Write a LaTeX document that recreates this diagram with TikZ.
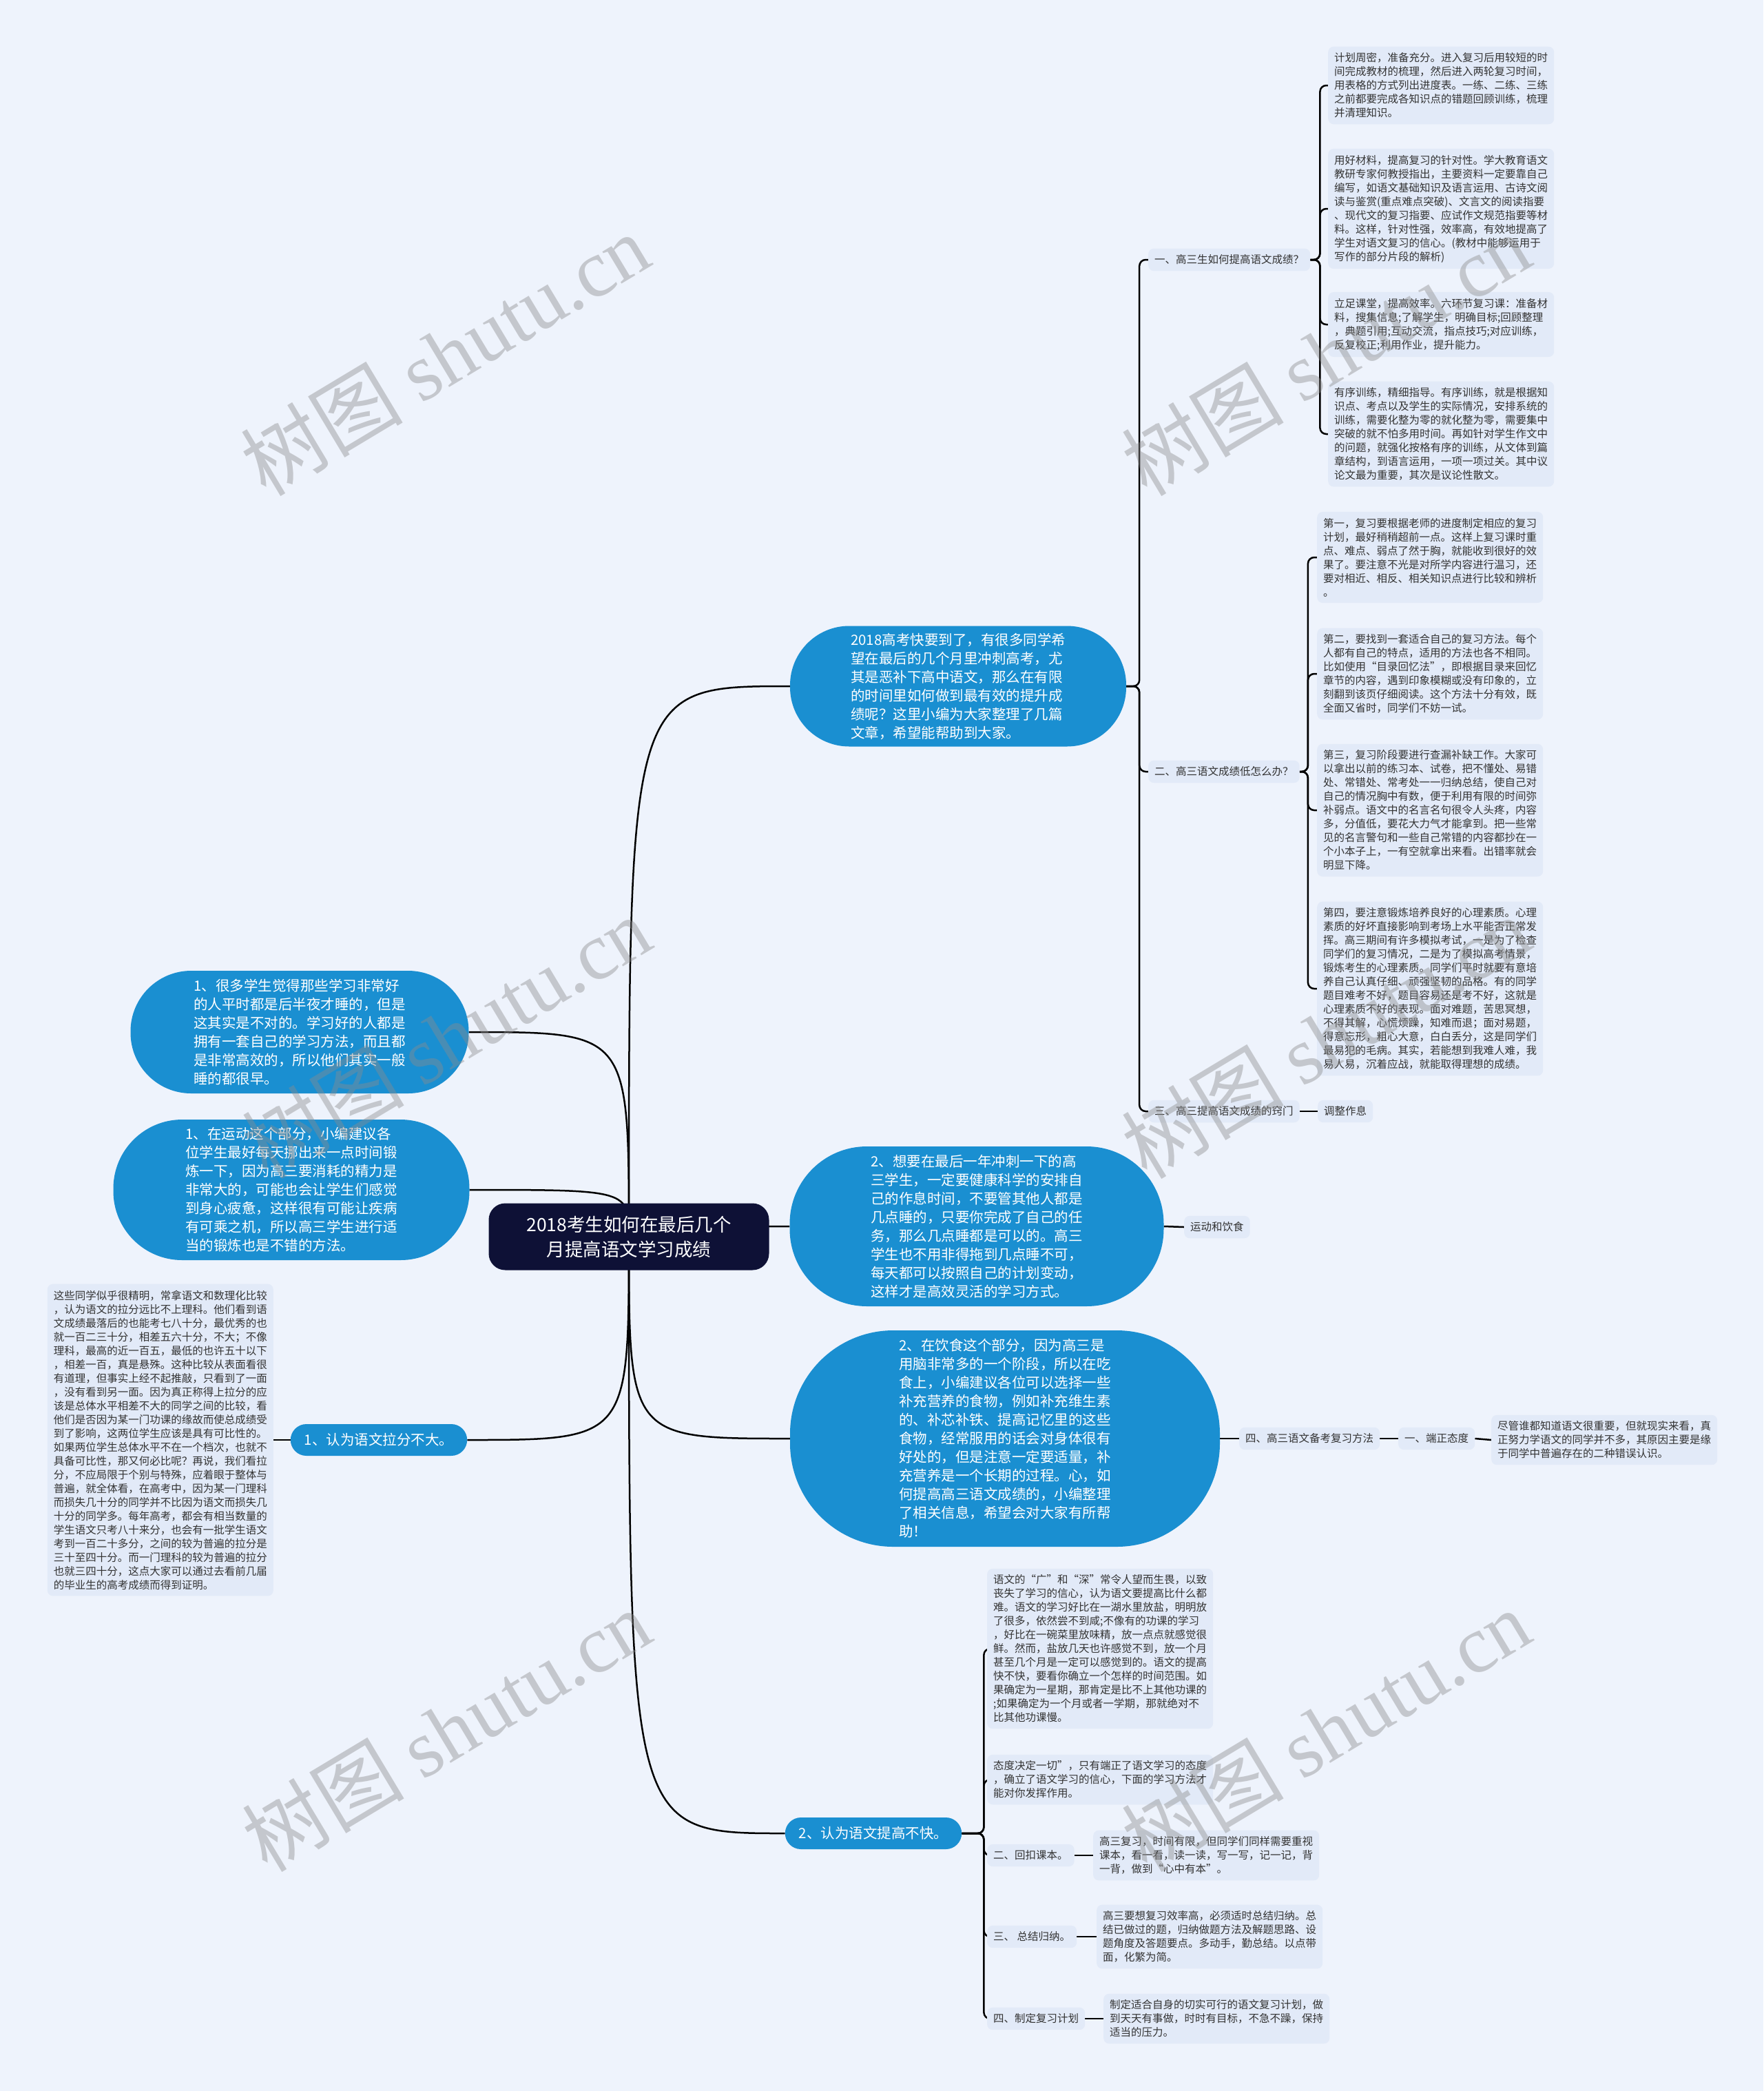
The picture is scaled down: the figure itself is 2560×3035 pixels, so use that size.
\documentclass[tikz,border=0pt]{standalone}
\usepackage{fontspec}
\setmainfont{Noto Sans CJK SC}
\newfontfamily\wmlatin{Liberation Serif}
\definecolor{pagebg}{HTML}{EEF3FC}
\definecolor{boxbg}{HTML}{E2EAF8}
\definecolor{bubblue}{HTML}{1A8FD1}
\definecolor{rootnavy}{HTML}{0E1136}
\definecolor{inktext}{HTML}{333333}
\pgfdeclarelayer{bg}
\pgfdeclarelayer{fg}
\pgfsetlayers{bg,main,fg}
\newcommand\txtsize{\fontsize{15.5pt}{20pt}\selectfont}
\newcommand\bubsize{\fontsize{20.5pt}{27pt}\selectfont}
\newcommand\rootsize{\fontsize{26.5pt}{36pt}\selectfont}
\tikzset{
    txtbox/.style={
        fill=boxbg, rounded corners=8pt, inner xsep=9pt, inner ysep=9pt,
        align=left, text=inktext, font=\txtsize
    },
    tagbox/.style={txtbox},
    bubble/.style={
        fill=bubblue, text=white, align=left, font=\bubsize, rounded corners=#1
    },
    pill/.style={
        fill=bubblue, text=white, font=\bubsize, rounded corners=23pt,
        minimum height=46pt, inner xsep=20pt
    },
    rootbox/.style={
        fill=rootnavy, text=white, align=center, font=\rootsize,
        rounded corners=24pt, minimum width=407pt, minimum height=97pt
    },
    conn/.style={line width=2.5pt, black},
    elbow/.style={conn, rounded corners=9pt},
    wmark/.style={
        text=black!45, opacity=0.42, rotate=31,
        font=\fontsize{118pt}{118pt}\selectfont
    }
}

\begin{document}
\begin{tikzpicture}[x=1pt,y=-1pt]
\useasboundingbox (0,0) rectangle (2560,3035);

% centre
\node[rootbox] (root) at (913,1795) {2018考生如何在最后几个\\月提高语文学习成绩};

% left side
\node[bubble=88pt, minimum width=491pt, minimum height=178pt] (sleep) at (435,1498)
    {1、很多学生觉得那些学习非常好\\的人平时都是后半夜才睡的，但是\\这其实是不对的。学习好的人都是\\拥有一套自己的学习方法，而且都\\是非常高效的，所以他们其实一般\\睡的都很早。};
\node[bubble=100pt, minimum width=517pt, minimum height=204pt] (sport) at (423,1727)
    {1、在运动这个部分，小编建议各\\位学生最好每天挪出来一点时间锻\\炼一下，因为高三要消耗的精力是\\非常大的，可能也会让学生们感觉\\到身心疲惫，这样很有可能让疾病\\有可乘之机，所以高三学生进行适\\当的锻炼也是不错的方法。};
\node[pill] (gapsmall) at (550,2090) {1、认为语文拉分不大。};
\node[txtbox, anchor=east] (gaptxt) at (397,2090)
    {这些同学似乎很精明，常拿语文和数理化比较\\，认为语文的拉分远比不上理科。他们看到语\\文成绩最落后的也能考七八十分，最优秀的也\\就一百二三十分，相差五六十分，不大；不像\\理科，最高的近一百五，最低的也许五十以下\\，相差一百，真是悬殊。这种比较从表面看很\\有道理，但事实上经不起推敲，只看到了一面\\，没有看到另一面。因为真正称得上拉分的应\\该是总体水平相差不大的同学之间的比较，看\\他们是否因为某一门功课的缘故而使总成绩受\\到了影响，这两位学生应该是具有可比性的。\\如果两位学生总体水平不在一个档次，也就不\\具备可比性，那又何必比呢？再说，我们看拉\\分，不应局限于个别与特殊，应着眼于整体与\\普遍，就全体看，在高考中，因为某一门理科\\而损失几十分的同学并不比因为语文而损失几\\十分的同学多。每年高考，都会有相当数量的\\学生语文只考八十来分，也会有一批学生语文\\考到一百二十多分，之间的较为普遍的拉分是\\三十至四十分。而一门理科的较为普遍的拉分\\也就三四十分，这点大家可以通过去看前几届\\的毕业生的高考成绩而得到证明。};

% right side
\node[bubble=86pt, minimum width=488pt, minimum height=175pt] (intro) at (1391,996)
    {2018高考快要到了，有很多同学希\\望在最后的几个月里冲刺高考，尤\\其是恶补下高中语文，那么在有限\\的时间里如何做到最有效的提升成\\绩呢？这里小编为大家整理了几篇\\文章，希望能帮助到大家。};
\node[bubble=112pt, minimum width=543pt, minimum height=232pt] (rest) at (1418,1780)
    {2、想要在最后一年冲刺一下的高\\三学生，一定要健康科学的安排自\\己的作息时间，不要管其他人都是\\几点睡的，只要你完成了自己的任\\务，那么几点睡都是可以的。高三\\学生也不用非得拖到几点睡不可，\\每天都可以按照自己的计划变动，\\这样才是高效灵活的学习方式。};
\node[bubble=150pt, minimum width=624pt, minimum height=314pt] (diet) at (1459,2088)
    {2、在饮食这个部分，因为高三是\\用脑非常多的一个阶段，所以在吃\\食上，小编建议各位可以选择一些\\补充营养的食物，例如补充维生素\\的、补芯补铁、提高记忆里的这些\\食物，经常服用的话会对身体很有\\好处的，但是注意一定要适量，补\\充营养是一个长期的过程。心，如\\何提高高三语文成绩的，小编整理\\了相关信息，希望会对大家有所帮\\助！};
\node[pill] (gapslow) at (1268,2661) {2、认为语文提高不快。};

% branch of intro
\node[tagbox, anchor=west] (q1) at (1667,377) {一、高三生如何提高语文成绩？};
\node[tagbox, anchor=west] (q2) at (1667,1120) {二、高三语文成绩低怎么办？};
\node[tagbox, anchor=west] (q3) at (1667,1613) {三、高三提高语文成绩的窍门};
\node[tagbox, anchor=west] (q3a) at (1913,1613) {调整作息};

\node[txtbox, anchor=west] (a1) at (1928,124)
    {计划周密，准备充分。进入复习后用较短的时\\间完成教材的梳理，然后进入两轮复习时间，\\用表格的方式列出进度表。一练、二练、三练\\之前都要完成各知识点的错题回顾训练，梳理\\并清理知识。};
\node[txtbox, anchor=west] (a2) at (1928,303)
    {用好材料，提高复习的针对性。学大教育语文\\教研专家何教授指出，主要资料一定要靠自己\\编写，如语文基础知识及语言运用、古诗文阅\\读与鉴赏(重点难点突破)、文言文的阅读指要\\、现代文的复习指要、应试作文规范指要等材\\料。这样，针对性强，效率高，有效地提高了\\学生对语文复习的信心。(教材中能够运用于\\写作的部分片段的解析)};
\node[txtbox, anchor=west] (a3) at (1928,471)
    {立足课堂，提高效率。六环节复习课：准备材\\料，搜集信息;了解学生，明确目标;回顾整理\\，典题引用;互动交流，指点技巧;对应训练，\\反复校正;利用作业，提升能力。};
\node[txtbox, anchor=west] (a4) at (1928,630)
    {有序训练，精细指导。有序训练，就是根据知\\识点、考点以及学生的实际情况，安排系统的\\训练，需要化整为零的就化整为零，需要集中\\突破的就不怕多用时间。再如针对学生作文中\\的问题，就强化按格有序的训练，从文体到篇\\章结构，到语言运用，一项一项过关。其中议\\论文最为重要，其次是议论性散文。};

\node[txtbox, anchor=west] (b1) at (1912,809)
    {第一，复习要根据老师的进度制定相应的复习\\计划，最好稍稍超前一点。这样上复习课时重\\点、难点、弱点了然于胸，就能收到很好的效\\果了。要注意不光是对所学内容进行温习，还\\要对相近、相反、相关知识点进行比较和辨析\\。};
\node[txtbox, anchor=west] (b2) at (1912,978)
    {第二，要找到一套适合自己的复习方法。每个\\人都有自己的特点，适用的方法也各不相同。\\比如使用“目录回忆法”，即根据目录来回忆\\章节的内容，遇到印象模糊或没有印象的，立\\刻翻到该页仔细阅读。这个方法十分有效，既\\全面又省时，同学们不妨一试。};
\node[txtbox, anchor=west] (b3) at (1912,1176)
    {第三，复习阶段要进行查漏补缺工作。大家可\\以拿出以前的练习本、试卷，把不懂处、易错\\处、常错处、常考处一一归纳总结，使自己对\\自己的情况胸中有数，便于利用有限的时间弥\\补弱点。语文中的名言名句很令人头疼，内容\\多，分值低，要花大力气才能拿到。把一些常\\见的名言警句和一些自己常错的内容都抄在一\\个小本子上，一有空就拿出来看。出错率就会\\明显下降。};
\node[txtbox, anchor=west] (b4) at (1912,1435)
    {第四，要注意锻炼培养良好的心理素质。心理\\素质的好坏直接影响到考场上水平能否正常发\\挥。高三期间有许多模拟考试，一是为了检查\\同学们的复习情况，二是为了模拟高考情景，\\锻炼考生的心理素质。同学们平时就要有意培\\养自己认真仔细、顽强坚韧的品格。有的同学\\题目难考不好，题目容易还是考不好，这就是\\心理素质不好的表现。面对难题，苦思冥想，\\不得其解，心慌烦躁，知难而退；面对易题，\\得意忘形，粗心大意，白白丢分，这是同学们\\最易犯的毛病。其实，若能想到我难人难，我\\易人易，沉着应战，就能取得理想的成绩。};

% branch of rest and diet
\node[tagbox, anchor=west] (rest1) at (1719,1781) {运动和饮食};
\node[tagbox, anchor=west] (p4) at (1799,2088) {四、高三语文备考复习方法};
\node[tagbox, anchor=west] (p4a) at (2030,2088) {一、端正态度};
\node[txtbox, anchor=west] (p4b) at (2165,2090)
    {尽管谁都知道语文很重要，但就现实来看，真\\正努力学语文的同学并不多，其原因主要是缘\\于同学中普遍存在的二种错误认识。};

% branch of gapslow
\node[txtbox, anchor=west] (s1) at (1433,2393)
    {语文的“广”和“深”常令人望而生畏，以致\\丧失了学习的信心，认为语文要提高比什么都\\难。语文的学习好比在一湖水里放盐，明明放\\了很多，依然尝不到咸;不像有的功课的学习\\，好比在一碗菜里放味精，放一点点就感觉很\\鲜。然而，盐放几天也许感觉不到，放一个月\\甚至几个月是一定可以感觉到的。语文的提高\\快不快，要看你确立一个怎样的时间范围。如\\果确定为一星期，那肯定是比不上其他功课的\\;如果确定为一个月或者一学期，那就绝对不\\比其他功课慢。};
\node[txtbox, anchor=west] (s2) at (1433,2583)
    {态度决定一切”，只有端正了语文学习的态度\\，确立了语文学习的信心，下面的学习方法才\\能对你发挥作用。};
\node[tagbox, anchor=west] (s3) at (1433,2693) {二、回扣课本。};
\node[txtbox, anchor=west] (s3a) at (1587,2693)
    {高三复习，时间有限，但同学们同样需要重视\\课本，看一看，读一读，写一写，记一记，背\\一背，做到“心中有本”。};
\node[tagbox, anchor=west] (s4) at (1433,2811) {三、 总结归纳。};
\node[txtbox, anchor=west] (s4a) at (1592,2811)
    {高三要想复习效率高，必须适时总结归纳。总\\结已做过的题，归纳做题方法及解题思路、设\\题角度及答题要点。多动手，勤总结。以点带\\面，化繁为简。};
\node[tagbox, anchor=west] (s5) at (1433,2930) {四、制定复习计划};
\node[txtbox, anchor=west] (s5a) at (1602,2930)
    {制定适合自身的切实可行的语文复习计划，做\\到天天有事做，时时有目标，不急不躁，保持\\适当的压力。};

% connectors
\begin{pgfonlayer}{bg}
\fill[pagebg] (0,0) rectangle (2560,3035);
\foreach \k in {sleep,sport,gapsmall}
    \draw[conn] (root.center) .. controls (root.center |- \k.east) .. (\k.east);
\foreach \k in {intro,rest,diet,gapslow}
    \draw[conn] (root.center) .. controls (root.center |- \k.west) .. (\k.west);
\draw[conn] (gapsmall.west) -- (gaptxt.east);
\foreach \k in {q1,q2,q3}
    \draw[elbow] (intro.east) -- ++(19,0) |- (\k.west);
\foreach \k in {a1,a2,a3,a4}
    \draw[elbow] (q1.east) -- ++(14,0) |- (\k.west);
\foreach \k in {b1,b2,b3,b4}
    \draw[elbow] (q2.east) -- ++(12,0) |- (\k.west);
\draw[conn] (q3.east) -- (q3a.west);
\draw[conn] (rest.east) -- (rest1.west);
\draw[conn] (diet.east) -- (p4.west);
\draw[conn] (p4.east) -- (p4a.west);
\draw[conn] (p4a.east) -- (p4b.west);
\foreach \k in {s1,s2,s3,s4,s5}
    \draw[elbow] (gapslow.east) -- ++(32,0) |- (\k.west);
\draw[conn] (s3.east) -- (s3a.west);
\draw[conn] (s4.east) -- (s4a.west);
\draw[conn] (s5.east) -- (s5a.west);
\end{pgfonlayer}

% watermarks
\begin{pgfonlayer}{fg}
\foreach \wx/\wy [count=\i] in {646/514,1925/514,648/1505,1925/1505,648/2511,1925/2511}
    \node[wmark] (wm\i) at (\wx,\wy) {树图 {\wmlatin shutu.cn}};
\end{pgfonlayer}
\end{tikzpicture}
\end{document}
